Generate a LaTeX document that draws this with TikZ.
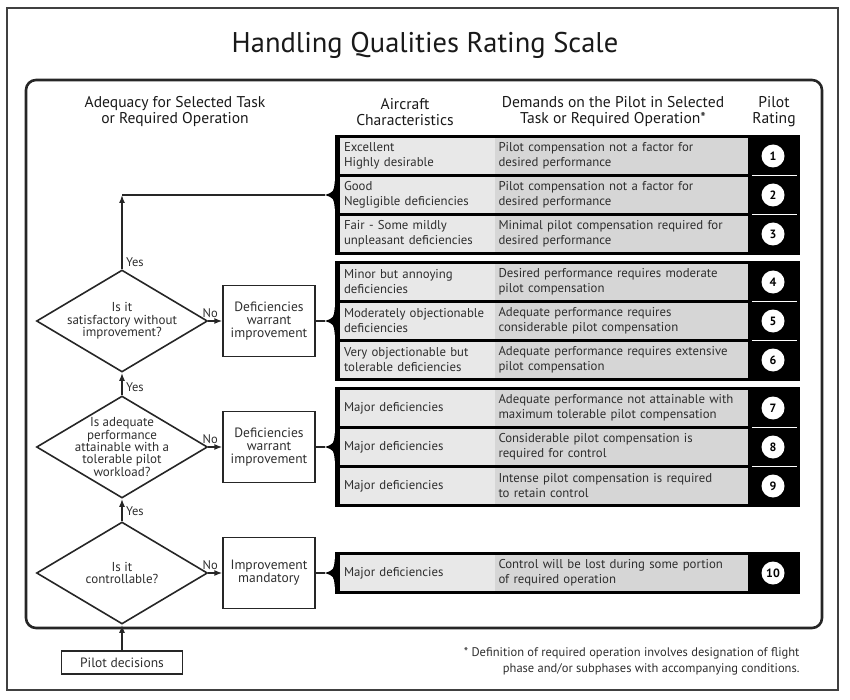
\documentclass[tikz,border=0pt]{standalone}
\usepackage{fontspec}
\setmainfont{PT Sans}
\usetikzlibrary{shapes.geometric,arrows.meta}

\definecolor{inkgray}{HTML}{2E2E2E}
\definecolor{charfill}{HTML}{E8E8E8}
\definecolor{demfill}{HTML}{D6D6D6}

\begin{document}
\begin{tikzpicture}[x=1pt, y=-1pt,
  every node/.style={text=inkgray},
  headtext/.style={align=center, text=black!90, font=\fontsize{15.6}{16}\selectfont},
  groupbox/.style={fill=black, minimum width=465pt, inner sep=0pt},
  charcell/.style={fill=charfill, minimum width=155pt, minimum height=36pt, inner sep=0pt,
                   text width=147pt, align=left, font=\fontsize{12.8}{15}\selectfont},
  demcell/.style={fill=demfill, minimum width=253pt, minimum height=36pt, inner sep=0pt,
                  text width=246pt, align=left, font=\fontsize{12.8}{15}\selectfont},
  ratedot/.style={circle, fill=white, minimum size=23pt, inner sep=0pt,
                  font=\bfseries\fontsize{12}{12}\selectfont, text=black},
  sepline/.style={white, line width=1.6pt},
  tipfill/.style={fill=black},
  diabox/.style={diamond, draw=black!85, line width=1.6pt, minimum width=171pt,
                 minimum height=102pt, inner sep=0pt},
  qtext/.style={align=center, font=\fontsize{13}{12.4}\selectfont},
  flowbox/.style={draw=black!85, line width=1.3pt, minimum width=92pt, minimum height=71pt,
                  align=center, font=\fontsize{13.5}{12.8}\selectfont},
  lbl/.style={font=\fontsize{12.5}{12}\selectfont, inner sep=1pt},
  conn/.style={black!85, line width=1.5pt},
  flow/.style={-{Latex[length=8pt,width=6pt]}, black!85, line width=1.5pt},
]
\useasboundingbox (0,0) rectangle (850,700);

% Frames and title
\draw[black!75, line width=1.2pt] (7,8) rectangle (838,690);
\draw[black!85, line width=2.6pt, rounded corners=10pt] (26,80) rectangle (822,628);
\node[text=black!90, font=\fontsize{28.5}{32}\selectfont] (title) at (425,45) {Handling Qualities Rating Scale};

% Column headings
\node[headtext] (hAdeq) at (175,112) {Adequacy for Selected Task\\or Required Operation};
\node[headtext] (hChar) at (405,112) {Aircraft\\Characteristics};
\node[headtext] (hDem) at (613,112) {Demands on the Pilot in Selected\\Task or Required Operation*};
\node[headtext] (hRate) at (774,112) {Pilot\\Rating};

% Group 1: ratings 1-3
\node[groupbox, minimum height=120pt] (g1) at (567.5,195) {};
\node[charcell] (c1) at (417.5,156) {Excellent\\Highly desirable};
\node[demcell] (p1) at (621.5,156) {Pilot compensation not a factor for\\desired performance};
\node[charcell] (c2) at (417.5,195) {Good\\Negligible deficiencies};
\node[demcell] (p2) at (621.5,195) {Pilot compensation not a factor for\\desired performance};
\node[charcell] (c3) at (417.5,234) {Fair - Some mildly\\unpleasant deficiencies};
\node[demcell] (p3) at (621.5,234) {Minimal pilot compensation required for\\desired performance};
\draw[sepline] (752,175.5) -- (797,175.5);
\draw[sepline] (752,214.5) -- (797,214.5);
\node[ratedot] (r1) at (773,156) {1};
\node[ratedot] (r2) at (773,195) {2};
\node[ratedot] (r3) at (773,234) {3};

% Group 2: ratings 4-6
\node[groupbox, minimum height=120pt] (g2) at (567.5,321) {};
\node[charcell] (c4) at (417.5,282) {Minor but annoying\\deficiencies};
\node[demcell] (p4) at (621.5,282) {Desired performance requires moderate\\pilot compensation};
\node[charcell] (c5) at (417.5,321) {Moderately objectionable\\deficiencies};
\node[demcell] (p5) at (621.5,321) {Adequate performance requires\\considerable pilot compensation};
\node[charcell] (c6) at (417.5,360) {Very objectionable but\\tolerable deficiencies};
\node[demcell] (p6) at (621.5,360) {Adequate performance requires extensive\\pilot compensation};
\draw[sepline] (752,301.5) -- (797,301.5);
\draw[sepline] (752,340.5) -- (797,340.5);
\node[ratedot] (r4) at (773,282) {4};
\node[ratedot] (r5) at (773,321) {5};
\node[ratedot] (r6) at (773,360) {6};

% Group 3: ratings 7-9
\node[groupbox, minimum height=120pt] (g3) at (567.5,447) {};
\node[charcell] (c7) at (417.5,408) {Major deficiencies};
\node[demcell] (p7) at (621.5,408) {Adequate performance not attainable with\\maximum tolerable pilot compensation};
\node[charcell] (c8) at (417.5,447) {Major deficiencies};
\node[demcell] (p8) at (621.5,447) {Considerable pilot compensation is\\required for control};
\node[charcell] (c9) at (417.5,486) {Major deficiencies};
\node[demcell] (p9) at (621.5,486) {Intense pilot compensation is required\\to retain control};
\draw[sepline] (752,427.5) -- (797,427.5);
\draw[sepline] (752,466.5) -- (797,466.5);
\node[ratedot] (r7) at (773,408) {7};
\node[ratedot] (r8) at (773,447) {8};
\node[ratedot] (r9) at (773,486) {9};

% Group 4: rating 10
\node[groupbox, minimum height=42pt] (g4) at (567.5,573) {};
\node[charcell] (c10) at (417.5,573) {Major deficiencies};
\node[demcell] (p10) at (621.5,573) {Control will be lost during some portion\\of required operation};
\node[ratedot] (r10) at (773,573) {10};

% Bracket tips on the left of each group
\coordinate (t1) at ([xshift=-10pt]g1.west);
\coordinate (t2) at ([xshift=-10pt]g2.west);
\coordinate (t3) at ([xshift=-10pt]g3.west);
\coordinate (t4) at ([xshift=-10pt]g4.west);
\fill[tipfill] ([yshift=14pt]g1.west) .. controls ([xshift=-1pt,yshift=3pt]g1.west) .. (t1)
  .. controls ([xshift=-1pt,yshift=-3pt]g1.west) .. ([yshift=-14pt]g1.west) -- cycle;
\fill[tipfill] ([yshift=14pt]g2.west) .. controls ([xshift=-1pt,yshift=3pt]g2.west) .. (t2)
  .. controls ([xshift=-1pt,yshift=-3pt]g2.west) .. ([yshift=-14pt]g2.west) -- cycle;
\fill[tipfill] ([yshift=14pt]g3.west) .. controls ([xshift=-1pt,yshift=3pt]g3.west) .. (t3)
  .. controls ([xshift=-1pt,yshift=-3pt]g3.west) .. ([yshift=-14pt]g3.west) -- cycle;
\fill[tipfill] ([yshift=14pt]g4.west) .. controls ([xshift=-1pt,yshift=3pt]g4.west) .. (t4)
  .. controls ([xshift=-1pt,yshift=-3pt]g4.west) .. ([yshift=-14pt]g4.west) -- cycle;

% Decision diamonds
\node[diabox] (d1) at (122,321) {};
\node[qtext] (q1) at (d1) {Is it\\satisfactory without\\improvement?};
\node[diabox] (d2) at (122,447) {};
\node[qtext] (q2) at (d2) {Is adequate\\performance\\attainable with a\\tolerable pilot\\workload?};
\node[diabox] (d3) at (122,573) {};
\node[qtext] (q3) at (d3) {Is it\\controllable?};

% Outcome boxes
\node[flowbox] (b1) at (269,321) {Deficiencies\\warrant\\improvement};
\node[flowbox] (b2) at (269,447) {Deficiencies\\warrant\\improvement};
\node[flowbox] (b3) at (269,573) {Improvement\\mandatory};
\node[draw=black!85, line width=1.3pt, minimum width=121pt, minimum height=23pt,
      font=\fontsize{13.5}{13}\selectfont] (pd) at (122,662.5) {Pilot decisions};

% Yes path
\coordinate (up1) at (d1.north |- g1.west);
\draw[flow] (pd.north) -- (d3.south);
\draw[flow] (d3.north) -- (d2.south);
\draw[flow] (d2.north) -- (d1.south);
\draw[flow] (d1.north) -- (up1);
\draw[conn] (up1) -- (t1);
\node[lbl, anchor=west] (yes1) at ([xshift=3pt,yshift=7pt]d1.north) {Yes};
\node[lbl, anchor=west] (yes2) at ([xshift=3pt,yshift=8pt]d2.north) {Yes};
\node[lbl, anchor=west] (yes3) at ([xshift=3pt,yshift=10pt]d3.north) {Yes};

% No path
\draw[flow] (d1.east) -- (b1.west);
\draw[flow] (d2.east) -- (b2.west);
\draw[flow] (d3.east) -- (b3.west);
\draw[conn] (b1.east) -- (t2);
\draw[conn] (b2.east) -- (t3);
\draw[conn] (b3.east) -- (t4);
\node[lbl, anchor=south] (no1) at ([xshift=2pt,yshift=2pt]d1.east) {No};
\node[lbl, anchor=south] (no2) at ([xshift=2pt,yshift=2pt]d2.east) {No};
\node[lbl, anchor=south] (no3) at ([xshift=2pt,yshift=2pt]d3.east) {No};

% Footnote
\node[anchor=north east, align=right, font=\fontsize{12.5}{16}\selectfont] (note) at (803,644)
  {* Definition of required operation involves designation of flight\\
   phase and/or subphases with accompanying conditions.};

\end{tikzpicture}
\end{document}
